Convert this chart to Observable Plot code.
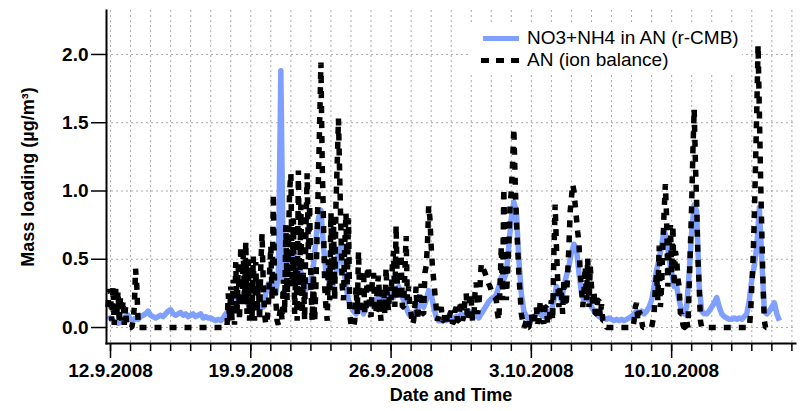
<!DOCTYPE html>
<html>
<head>
<meta charset="utf-8">
<script src="https://cdn.jsdelivr.net/npm/d3@7"></script>
<script src="https://cdn.jsdelivr.net/npm/@observablehq/plot@0.6"></script>
<style>
  body { margin: 0; background: #fff; }
  #wrap { position: relative; width: 800px; height: 411px; font-family: "Liberation Sans", Arial, sans-serif; }
  #legend { position: absolute; left: 470px; top: 25px; width: 272px; height: 47px; background: #fff; color: #000; }
  #legend span { position: absolute; left: 57px; font-size: 19px; line-height: 22px; white-space: nowrap; }
  #legend svg { position: absolute; left: 11px; }
</style>
</head>
<body>
<div id="wrap">
  <div id="chart"></div>
  <div id="legend">
    <svg style="top:10px" width="40" height="7"><line x1="2" y1="3.5" x2="38" y2="3.5" stroke="rgb(128,160,255)" stroke-width="5"/></svg>
    <span style="top:2px">NO3+NH4 in AN (r-CMB)</span>
    <svg style="top:32px" width="40" height="7"><line x1="0" y1="3.5" x2="39" y2="3.5" stroke="#000" stroke-width="5" stroke-dasharray="8,7"/></svg>
    <span style="top:24px">AN (ion balance)</span>
  </div>
</div>
<script>
// ---- data, both series start 11.9.2008 21:00 UTC ----
const startTime = "2008-09-11T21:00:00Z";
const rcmbStepHours = 3;   // NO3+NH4 readings every 3 h
const ionStepHours = 1.5;  // ion balance readings every 1.5 h

// NO3+NH4 in AN (r-CMB), one row per day (8 readings)
const rcmb = [
  0.06,
  0.07,0.05,0.04,0.03,0.04,0.06,0.08,0.09,
  0.06,0.05,0.07,0.06,0.08,0.09,0.10,0.12,
  0.09,0.08,0.07,0.08,0.09,0.08,0.10,0.12,
  0.13,0.10,0.09,0.10,0.11,0.09,0.10,0.08,
  0.09,0.10,0.08,0.09,0.10,0.07,0.08,0.07,
  0.07,0.06,0.05,0.06,0.05,0.07,0.10,0.12,
  0.12,0.15,0.20,0.22,0.20,0.25,0.20,0.17,
  0.16,0.15,0.15,0.15,0.15,0.15,0.25,0.32,
  0.32,0.30,0.25,0.40,1.88,0.35,0.45,0.55,
  0.50,0.55,0.45,0.50,0.40,0.32,0.28,0.30,
  0.35,0.45,0.65,0.80,0.86,0.60,0.40,0.35,
  0.30,0.32,0.40,0.55,0.59,0.45,0.30,0.20,
  0.15,0.12,0.10,0.12,0.15,0.10,0.15,0.18,
  0.18,0.15,0.20,0.22,0.18,0.20,0.22,0.25,
  0.25,0.22,0.28,0.30,0.25,0.20,0.15,0.10,
  0.08,0.10,0.12,0.15,0.18,0.15,0.20,0.27,
  0.25,0.15,0.08,0.05,0.05,0.06,0.05,0.06,
  0.06,0.07,0.08,0.07,0.10,0.08,0.10,0.12,
  0.10,0.08,0.10,0.07,0.10,0.13,0.16,0.19,
  0.21,0.22,0.24,0.30,0.37,0.35,0.40,0.60,
  0.80,0.92,0.85,0.50,0.25,0.12,0.08,0.06,
  0.06,0.08,0.10,0.12,0.09,0.08,0.10,0.12,
  0.12,0.20,0.30,0.25,0.20,0.30,0.38,0.45,
  0.55,0.61,0.58,0.40,0.25,0.20,0.25,0.20,
  0.15,0.12,0.10,0.08,0.07,0.07,0.06,0.07,
  0.06,0.05,0.06,0.05,0.06,0.05,0.06,0.07,
  0.08,0.10,0.12,0.10,0.12,0.10,0.12,0.15,
  0.20,0.30,0.42,0.50,0.60,0.71,0.65,0.50,
  0.40,0.30,0.30,0.20,0.12,0.10,0.15,0.40,
  0.70,0.90,0.85,0.30,0.12,0.10,0.10,0.12,
  0.15,0.18,0.22,0.15,0.10,0.08,0.07,0.06,
  0.06,0.07,0.06,0.07,0.06,0.08,0.10,0.20,
  0.35,0.45,0.60,0.88,0.50,0.12,0.10,0.12,
  0.15,0.18,0.10,0.05
];

// AN (ion balance), one row per day (16 readings)
const ionBalance = [
  0.15,0.28,
  0.25,0.05,0.30,0.02,0.31,0.08,0.27,0.03,0.23,0.05,0.20,0.02,0.15,0.00,0.00,0.00,
  0.00,0.00,0.05,0.15,0.43,0.30,0.05,0.00,0.00,0.00,0.00,0.00,0.00,0.00,0.00,0.00,
  0.00,0.00,0.00,0.00,0.00,0.00,0.00,0.00,0.00,0.00,0.00,0.00,0.00,0.00,0.00,0.00,
  0.00,0.00,0.00,0.00,0.00,0.00,0.00,0.00,0.00,0.00,0.00,0.00,0.00,0.00,0.00,0.00,
  0.00,0.00,0.00,0.00,0.00,0.00,0.00,0.00,0.00,0.00,0.00,0.00,0.00,0.00,0.00,0.00,
  0.00,0.00,0.00,0.00,0.00,0.00,0.00,0.00,0.00,0.00,0.00,0.00,0.00,0.00,0.25,0.05,
  0.30,0.05,0.35,0.02,0.48,0.10,0.45,0.05,0.60,0.15,0.55,0.20,0.63,0.10,0.50,0.05,
  0.50,0.08,0.52,0.05,0.48,0.10,0.35,0.05,0.45,0.69,0.30,0.10,0.02,0.05,0.15,0.40,
  0.60,0.20,0.98,0.30,0.20,0.05,0.02,0.10,0.15,0.05,0.35,0.10,0.75,0.20,0.60,1.00,
  1.13,0.30,0.80,0.10,0.50,0.05,1.15,0.30,0.90,0.10,0.40,0.05,0.70,1.13,0.50,0.90,
  0.30,0.05,0.40,0.05,0.30,0.70,1.10,1.50,1.94,1.20,0.80,0.30,0.15,0.05,0.50,0.20,
  0.84,0.30,0.80,0.20,0.90,1.20,1.53,1.10,0.70,0.30,0.20,0.60,0.84,0.30,0.80,0.10,
  0.02,0.00,0.00,0.05,0.30,0.10,0.56,0.20,0.10,0.35,0.42,0.10,0.15,0.40,0.45,0.10,
  0.08,0.35,0.40,0.10,0.12,0.30,0.38,0.15,0.05,0.25,0.30,0.10,0.44,0.20,0.12,0.30,
  0.20,0.45,0.56,0.15,0.75,0.30,0.30,0.20,0.54,0.15,0.15,0.40,0.67,0.20,0.30,0.15,
  0.10,0.02,0.05,0.15,0.30,0.05,0.15,0.25,0.32,0.10,0.10,0.40,0.45,0.60,0.89,0.80,
  0.60,0.45,0.35,0.25,0.15,0.05,0.08,0.12,0.15,0.05,0.05,0.10,0.12,0.03,0.05,0.10,
  0.12,0.03,0.04,0.12,0.15,0.05,0.05,0.15,0.20,0.05,0.08,0.20,0.25,0.05,0.10,0.25,
  0.20,0.05,0.05,0.25,0.33,0.10,0.15,0.30,0.47,0.45,0.42,0.40,0.37,0.35,0.32,0.30,
  0.27,0.25,0.23,0.22,0.20,0.10,0.05,0.30,0.60,0.20,1.02,0.50,0.20,0.40,0.60,0.90,
  1.00,1.20,1.46,1.10,0.80,0.60,0.40,0.25,0.10,0.05,0.00,0.02,0.05,0.00,0.00,0.05,
  0.10,0.02,0.02,0.12,0.15,0.03,0.05,0.18,0.20,0.05,0.03,0.15,0.15,0.02,0.05,0.12,
  0.20,0.05,0.55,0.90,0.60,0.35,0.15,0.30,0.25,0.10,0.36,0.15,0.20,0.40,0.60,0.85,
  0.95,1.05,1.00,0.90,0.80,0.70,0.62,0.40,0.30,0.15,0.25,0.45,0.20,0.51,0.15,0.45,
  0.30,0.15,0.27,0.10,0.10,0.20,0.20,0.08,0.17,0.05,0.05,0.02,0.00,0.00,0.00,0.00,
  0.00,0.00,0.00,0.00,0.00,0.00,0.00,0.00,0.00,0.00,0.00,0.00,0.00,0.00,0.00,0.00,
  0.00,0.00,0.05,0.15,0.18,0.05,0.12,0.10,0.05,0.00,0.00,0.00,0.00,0.00,0.00,0.00,
  0.00,0.05,0.10,0.30,0.40,0.20,0.60,0.15,0.30,0.60,0.85,1.05,0.80,0.30,0.60,0.75,
  0.40,0.75,0.30,0.56,0.50,0.36,0.30,0.10,0.10,0.02,0.00,0.00,0.05,0.00,0.30,0.60,
  0.90,1.30,1.60,1.20,0.90,0.50,0.30,0.05,0.00,0.00,0.00,0.00,0.00,0.00,0.00,0.00,
  0.00,0.00,0.00,0.00,0.00,0.00,0.00,0.00,0.00,0.00,0.00,0.00,0.00,0.00,0.00,0.00,
  0.00,0.00,0.00,0.00,0.00,0.00,0.00,0.00,0.00,0.00,0.00,0.00,0.00,0.00,0.00,0.10,
  0.30,0.50,0.80,1.20,1.60,2.07,1.60,1.10,0.70,0.30,0.05,0.00,0.00
];

const yTicks = [0, 0.5, 1.0, 1.5, 2.0];
const xTickDates = ["2008-09-12", "2008-09-19", "2008-09-26", "2008-10-03", "2008-10-10"];
const xTickLabels = ["12.9.2008", "19.9.2008", "26.9.2008", "3.10.2008", "10.10.2008"];
const xDomain = ["2008-09-11T19:12:00Z", "2008-10-16T04:20:00Z"];
const yDomain = [-0.117, 2.322];

// ---- build tables ----
const t0 = new Date(startTime).getTime();
const toRows = (arr, stepH) => arr.map((v, i) => ({ time: new Date(t0 + i * stepH * 3600e3), value: v }));
const blueRows = toRows(rcmb, rcmbStepHours);
const blackRows = toRows(ionBalance, ionStepHours);

const xd = xDomain.map(d => new Date(d));
const days = d3.utcDays(xd[0], xd[1]);
const majors = xTickDates.map(d => new Date(d + "T00:00:00Z"));
const labelOf = new Map(majors.map((d, i) => [+d, xTickLabels[i]]));

const chart = Plot.plot({
  width: 800,
  height: 411,
  marginLeft: 106,
  marginRight: 5,
  marginTop: 10,
  marginBottom: 68,
  style: {
    fontFamily: '"Liberation Sans", Arial, sans-serif',
    fontSize: "18px",
    fontWeight: "bold",
    background: "#fff",
    color: "#000",
    overflow: "visible"
  },
  x: { type: "utc", domain: xd },
  y: { domain: yDomain },
  marks: [
    Plot.gridX(days, { stroke: "#aaa", strokeOpacity: 1, strokeDasharray: "2,3" }),
    Plot.gridY(yTicks, { stroke: "#aaa", strokeOpacity: 1, strokeDasharray: "2,3" }),
    Plot.line(blueRows, { x: "time", y: "value", stroke: "rgb(128,160,255)", strokeWidth: 5.5, strokeLinejoin: "round", strokeLinecap: "butt" }),
    Plot.line(blackRows, { x: "time", y: "value", stroke: "#000", strokeWidth: 5.5, strokeDasharray: "7,8", strokeLinecap: "butt", strokeLinejoin: "miter" }),
    Plot.frame({ anchor: "left", strokeWidth: 2 }),
    Plot.frame({ anchor: "bottom", strokeWidth: 2 }),
    Plot.axisY(yTicks, { tickSize: 15, tickPadding: 3, strokeWidth: 1.5, fontSize: 19, tickFormat: d => d.toFixed(1), label: null }),
    Plot.axisX(days, { tickSize: 8, strokeWidth: 1.5, tickFormat: () => "", label: null }),
    Plot.axisX(majors, { tickSize: 15, tickPadding: 5, strokeWidth: 1.5, fontSize: 19, tickFormat: d => labelOf.get(+d), label: null }),
    Plot.text(["Mass loading (µg/m³)"], { text: d => d, frameAnchor: "left", textAnchor: "middle", dx: -78, rotate: -90 }),
    Plot.text(["Date and Time"], { text: d => d, frameAnchor: "bottom", dy: 57 })
  ]
});
document.getElementById("chart").appendChild(chart);
</script>
</body>
</html>
